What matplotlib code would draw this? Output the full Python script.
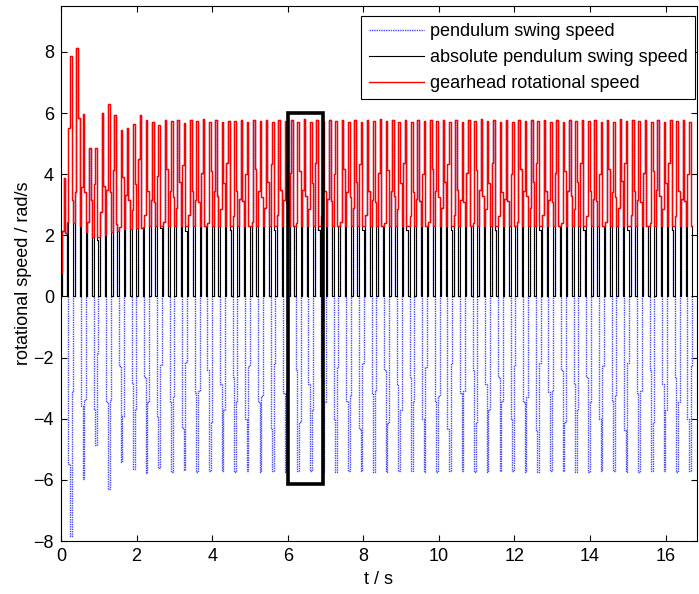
import numpy as np
import matplotlib
matplotlib.use("Agg")
import matplotlib.pyplot as plt
from matplotlib.patches import Rectangle

plt.rcParams['font.family'] = ['Liberation Sans', 'DejaVu Sans']

# ---- data ----
# peak magnitude of each positive half-swing (hidden under the black trace)
pos_peaks = [3.87, 8.11, 4.85, 6.00, 5.93, 5.51, 5.93, 5.71, 5.77, 5.78,
             5.76, 5.79, 5.77, 5.75, 5.78, 5.77, 5.76, 5.78, 5.77, 5.79,
             5.76, 5.77, 5.78, 5.76, 5.77, 5.79, 5.77, 5.76, 5.78, 5.77,
             5.76, 5.78, 5.77, 5.79, 5.76, 5.77, 5.78, 5.76, 5.77, 5.78,
             5.77, 5.76, 5.78, 5.77, 5.79, 5.76, 5.77, 5.78, 5.76, 5.77]
# peak value of each negative half-swing (visible blue pulses)
neg_peaks = [-7.85, -5.97, -4.85, -6.30, -5.43, -5.65, -5.76, -5.61, -5.73, -5.67,
             -5.74, -5.72, -5.70, -5.75, -5.72, -5.73, -5.71, -5.74, -5.72, -5.70,
             -5.73, -5.74, -5.71, -5.72, -5.75, -5.73, -5.71, -5.72, -5.74, -5.73,
             -5.70, -5.72, -5.74, -5.73, -5.71, -5.72, -5.75, -5.73, -5.71, -5.72,
             -5.74, -5.73, -5.72, -5.70, -5.73, -5.74, -5.72, -5.71, -5.73, -5.72]
# gearhead speed at each zero crossing of the pendulum (lower edge of red band)
red_floor = [0.77, 2.45, 2.40, 2.30, 2.10, 1.95, 1.95, 2.00, 2.10, 2.15,
             2.20, 2.20, 2.25, 2.28, 2.30, 2.31, 2.29, 2.30, 2.32, 2.30,
             2.29, 2.31, 2.30, 2.30, 2.32, 2.29, 2.30, 2.31, 2.30, 2.29,
             2.31, 2.30, 2.32, 2.30, 2.29, 2.30, 2.31, 2.30, 2.30, 2.32,
             2.29, 2.30, 2.31, 2.30, 2.29, 2.31, 2.30, 2.32, 2.30, 2.29,
             2.30, 2.31, 2.30, 2.30, 2.32, 2.29, 2.30, 2.31, 2.30, 2.29,
             2.31, 2.30, 2.32, 2.30, 2.29, 2.30, 2.31, 2.30, 2.30, 2.32,
             2.29, 2.30, 2.31, 2.30, 2.29, 2.31, 2.30, 2.32, 2.30, 2.29,
             2.30, 2.31, 2.30, 2.30, 2.32, 2.29, 2.30, 2.31, 2.30, 2.29,
             2.31, 2.30, 2.32, 2.30, 2.29, 2.30, 2.31, 2.30, 2.30, 2.32]
# sampled shoulder levels (fraction of peak) on the rising / falling flank
shoulder_up = [0.55, 0.70, 0.42, 0.60, 0.50, 0.76, 0.46]
shoulder_down = [0.54, 0.40, 0.72, 0.57, 0.65, 0.38, 0.60]

half_period = 0.16714        # s, one half swing
first_center = 0.093         # s, centre of first half swing
samples_per_half = 4

legend_labels = ['pendulum swing speed', 'absolute pendulum swing speed',
                 'gearhead rotational speed']

# ---- build sampled traces ----
dt = half_period / samples_per_half
t_list, blue_list, red_list = [], [], []
n_half = 2 * len(pos_peaks)
for j in range(n_half):
    amp = pos_peaks[j // 2] if j % 2 == 0 else neg_peaks[j // 2]
    up = shoulder_up[j % len(shoulder_up)]
    dn = shoulder_down[j % len(shoulder_down)]
    shape = [0.0, up, 1.0, dn]
    start = first_center + j * half_period - 2.5 * dt
    for i, f in enumerate(shape):
        tt = max(start + i * dt, 0.0)
        v = amp * f
        t_list.append(tt)
        blue_list.append(v)
        red_list.append(max(abs(v), red_floor[j]))
t_end = first_center + (n_half - 1) * half_period + 1.5 * dt
t_list.append(t_end)
blue_list.append(0.0)
red_list.append(red_floor[-1])

t = np.array(t_list)
blue = np.array(blue_list)
black = np.abs(blue)
red = np.array(red_list)

# ---- plot ----
fig = plt.figure(figsize=(6.99, 5.94), dpi=100)
ax = fig.add_axes([61 / 699, 1 - 541 / 594, 636 / 699, 535 / 594])

l1, = ax.plot(t, blue, color='#4848ff', lw=1.0, ls=(0, (1.0, 0.7)),
              drawstyle='steps-post', label=legend_labels[0])
l2, = ax.plot(t, black, color='black', lw=0.8, drawstyle='steps-post',
              label=legend_labels[1])
l3, = ax.plot(t, red, color='#ff0000', lw=1.0, drawstyle='steps-post',
              label=legend_labels[2])

ax.add_patch(Rectangle((6.01, -6.12), 0.93, 12.12, fill=False,
                       edgecolor='black', lw=2.6, zorder=5))

ax.set_xlim(0, 16.83)
ax.set_ylim(-8, 9.5)
ax.set_xticks(np.arange(0, 17, 2))
ax.set_yticks(np.arange(-8, 9, 2))
ax.tick_params(direction='in', length=4, width=0.8, top=True, right=True,
               labelsize=13, pad=5)
for s in ax.spines.values():
    s.set_linewidth(0.8)

ax.set_xlabel('t / s', fontsize=13, labelpad=4)
ax.set_ylabel('rotational speed / rad/s', fontsize=13, labelpad=1)

leg = ax.legend(handles=[l1, l2, l3], loc='upper right',
                bbox_to_anchor=(695 / 699, 1 - 16 / 594),
                bbox_transform=fig.transFigure, borderaxespad=0,
                fontsize=13, frameon=True, fancybox=False, framealpha=1,
                edgecolor='black', handlelength=3.05, handletextpad=0.35,
                borderpad=0.4, labelspacing=0.5)
leg.get_frame().set_linewidth(0.8)
for h in leg.legend_handles:
    h.set_drawstyle('default')

fig.savefig('out.png', dpi=100)
